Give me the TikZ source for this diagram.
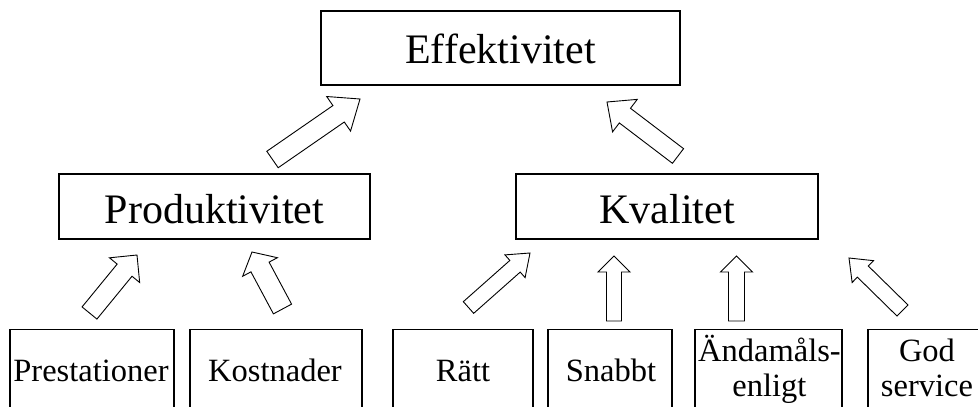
\documentclass[tikz,border=0pt]{standalone}
\usepackage{fontspec}
\setmainfont{Liberation Serif}
\usetikzlibrary{calc}

\tikzset{
  box/.style={draw=black, line width=1.1pt, rectangle, inner sep=0pt},
  bigtext/.style={font=\fontsize{42}{50}\selectfont, anchor=base, inner sep=0pt},
  smalltext/.style={font=\fontsize{32.5}{35}\selectfont, anchor=base, inner sep=0pt, align=center},
  blockline/.style={draw=black, line width=0.9pt, fill=white, line join=miter},
}

% Outlined block arrow from a tail coordinate to a tip coordinate.
% #1 tail, #2 tip, #3 shaft half-width, #4 head half-width, #5 head length
\newcommand{\blockarrow}[5]{%
  \coordinate (#1-hb) at ($(#2)!#5!(#1)$);
  \draw[blockline]
    ($(#1)!#3!90:(#2)$) -- ($(#1-hb)!#3!-90:(#1)$) -- ($(#1-hb)!#4!-90:(#1)$)
    -- (#2)
    -- ($(#1-hb)!#4!90:(#1)$) -- ($(#1-hb)!#3!90:(#1)$) -- ($(#1)!#3!-90:(#2)$) -- cycle;
}

\begin{document}
\begin{tikzpicture}[x=1pt,y=-1pt]
\useasboundingbox (0,0) rectangle (978,407);
\clip (0,0) rectangle (978,407);
\fill[white] (0,0) rectangle (978,407);

% top level
\node[box, minimum width=359pt, minimum height=74pt] (eff) at (500.5,48) {};
\node[bigtext] (efft) at (500.5,63.3) {Effektivitet};

% middle level
\node[box, minimum width=311pt, minimum height=65pt] (prod) at (214.5,206.5) {};
\node[bigtext] (prodt) at (214.5,223.3) {Produktivitet};
\node[box, minimum width=302pt, minimum height=65pt] (kval) at (667,206.5) {};
\node[bigtext] (kvalt) at (667,223.3) {Kvalitet};

% bottom level (boxes run past the lower edge)
\node[box, minimum width=164pt, minimum height=100pt] (prest) at (92,379.5) {};
\node[box, minimum width=172pt, minimum height=100pt] (kost) at (276,379.5) {};
\node[box, minimum width=140pt, minimum height=100pt] (ratt) at (463,379.5) {};
\node[box, minimum width=124pt, minimum height=100pt] (snabb) at (610,379.5) {};
\node[box, minimum width=147pt, minimum height=100pt] (andam) at (768.5,379.5) {};
\node[box, minimum width=118pt, minimum height=100pt] (god) at (927,379.5) {};

\node[smalltext] (prestt) at (91,381.7) {Prestationer};
\node[smalltext] (kostt) at (275,381.7) {Kostnader};
\node[smalltext] (rattt) at (463,381.7) {Rätt};
\node[smalltext] (snabbt) at (611,381.7) {Snabbt};
\node[smalltext] (andamt) at (769.5,396.7) {Ändamåls-\\enligt};
\node[smalltext] (godt) at (927,396.7) {God\\service};

% arrow ends
\coordinate (a1s) at (272.5,159.5); \coordinate (a1e) at (360,99);
\coordinate (a2s) at (678,156);     \coordinate (a2e) at (607,102);
\coordinate (a3s) at (89.5,313);    \coordinate (a3e) at (137,255);
\coordinate (a4s) at (282.5,309);   \coordinate (a4e) at (252,252);
\coordinate (a5s) at (468.5,307.5); \coordinate (a5e) at (530,253);
\coordinate (a6s) at (614,321);     \coordinate (a6e) at (614,256);
\coordinate (a7s) at (736.5,321);   \coordinate (a7e) at (736.5,256);
\coordinate (a8s) at (902.5,310.5); \coordinate (a8e) at (849,258);

\blockarrow{a1s}{a1e}{10pt}{21pt}{26pt}
\blockarrow{a2s}{a2e}{9.2pt}{20.4pt}{22.5pt}
\blockarrow{a3s}{a3e}{9.6pt}{19.5pt}{19.6pt}
\blockarrow{a4s}{a4e}{10.3pt}{19.7pt}{17pt}
\blockarrow{a5s}{a5e}{7.8pt}{15.2pt}{20pt}
\blockarrow{a6s}{a6e}{7.5pt}{16pt}{16pt}
\blockarrow{a7s}{a7e}{8pt}{16pt}{16pt}
\blockarrow{a8s}{a8e}{7.8pt}{15.3pt}{19.4pt}
\end{tikzpicture}
\end{document}
